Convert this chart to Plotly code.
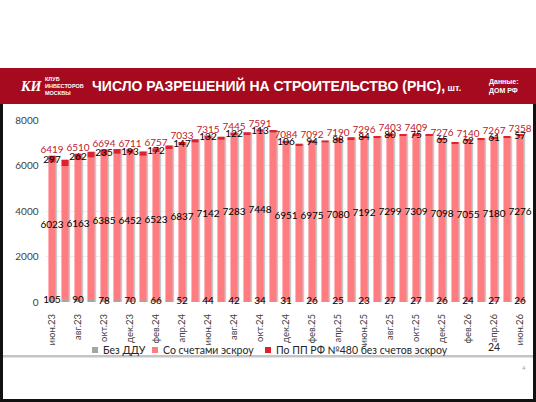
import plotly.graph_objects as go

W, H = 536, 402

# monthly categories, every second one is labelled on the axis
months = [
    "июн.23", "июл.23", "авг.23", "сен.23", "окт.23", "ноя.23", "дек.23",
    "янв.24", "фев.24", "мар.24", "апр.24", "май.24", "июн.24", "июл.24",
    "авг.24", "сен.24", "окт.24", "ноя.24", "дек.24", "янв.25", "фев.25",
    "мар.25", "апр.25", "май.25", "июн.25", "июл.25", "авг.25", "сен.25",
    "окт.25", "ноя.25", "дек.25", "янв.26", "фев.26", "мар.26", "апр.26",
    "май.26", "июн.26",
]

bez_ddu = [105, 98, 90, 84, 78, 74, 70, 68, 66, 58, 52, 47, 44, 43, 42, 37,
           34, 32, 31, 28, 26, 25, 25, 24, 23, 25, 27, 27, 27, 26, 26, 25,
           24, 26, 27, 26, 26]

escrow = [6023, 5877, 6163, 6268, 6385, 6446, 6452, 6362, 6523, 6662, 6837,
          6963, 7142, 7090, 7283, 7305, 7448, 7418, 6951, 6832, 6975, 6985,
          7080, 7130, 7192, 7193, 7299, 7285, 7309, 7294, 7098, 6932, 7055,
          7113, 7180, 7195, 7276]

pp480 = [297, 275, 262, 248, 235, 210, 193, 180, 172, 160, 147, 140, 132,
         127, 122, 118, 113, 110, 106, 100, 94, 90, 88, 86, 84, 82, 80, 78,
         75, 70, 65, 63, 62, 61, 61, 59, 57]

# totals printed above the labelled months
totals = [6419, 6510, 6694, 6711, 6757, 7033, 7315, 7445, 7591, 7084, 7092,
          7190, 7296, 7403, 7409, 7276, 7140, 7267, 7358]

y_ticks = [0, 2000, 4000, 6000, 8000]

GREY = "#A5A5A5"
PINK = "#FF7C80"
DARK = "#E0202A"
BAND = "#A50A1E"
FONT = "Lato"


def px(x):
    return x / W


def py(y):
    return 1 - y / H


top_escrow = [b + e for b, e in zip(bez_ddu, escrow)]
stack_top = [t + p for t, p in zip(top_escrow, pp480)]

lab = list(range(0, len(months), 2))
lab_x = [months[i] for i in lab]

fig = go.Figure()

# soft shadow to the right of every column
fig.add_trace(go.Bar(
    x=months, y=stack_top, base=0, width=0.55, offset=-0.15,
    marker=dict(color="#C9C9C9", line_width=0), showlegend=False,
    hoverinfo="skip",
))
fig.add_trace(go.Bar(
    x=months, y=bez_ddu, base=0, width=0.55, name="Без ДДУ",
    marker=dict(color=GREY, line_width=0), showlegend=False,
))
fig.add_trace(go.Bar(
    x=months, y=escrow, base=bez_ddu, width=0.55, name="Со счетами эскроу",
    marker=dict(color=PINK, line_width=0), showlegend=False,
))
fig.add_trace(go.Bar(
    x=months, y=pp480, base=top_escrow, width=0.55,
    name="По ПП РФ №480 без счетов эскроу",
    marker=dict(color=DARK, line_width=0), showlegend=False,
))

label_font = dict(family=FONT, size=10, color="#000000")
fig.add_trace(go.Scatter(
    x=lab_x, y=[bez_ddu[i] / 2 for i in lab], text=[bez_ddu[i] for i in lab],
    mode="text", textfont=label_font, cliponaxis=False, showlegend=False,
))
fig.add_trace(go.Scatter(
    x=lab_x, y=[bez_ddu[i] + escrow[i] / 2 + 250 for i in lab],
    text=[escrow[i] for i in lab],
    mode="text", textfont=label_font, cliponaxis=False, showlegend=False,
))
fig.add_trace(go.Scatter(
    x=lab_x, y=[top_escrow[i] + pp480[i] / 2 - 40 for i in lab],
    text=[pp480[i] for i in lab],
    mode="text", textfont=label_font, cliponaxis=False, showlegend=False,
))
fig.add_trace(go.Scatter(
    x=lab_x, y=[stack_top[i] for i in lab], text=totals,
    mode="text", textposition="top center",
    textfont=dict(family=FONT, size=10, color="#C0202A"),
    cliponaxis=False, showlegend=False,
))

fig.update_layout(
    width=W, height=H,
    margin=dict(l=0, r=0, t=0, b=0),
    paper_bgcolor="white", plot_bgcolor="white",
    barmode="overlay",
    font=dict(family=FONT, color="#404040"),
    showlegend=False,
)

fig.update_xaxes(
    type="category", categoryorder="array", categoryarray=months,
    range=[-0.5, len(months) - 0.5],
    domain=[px(45.5), px(526.5)],
    tickmode="array", tickvals=lab_x, ticktext=lab_x,
    tickangle=-90, tickfont=dict(family=FONT, size=9.5, color="#404040"),
    ticklabelstandoff=9, showgrid=False, showline=False, ticks="",
    zeroline=False, automargin=False,
)
fig.update_yaxes(
    range=[0, 8000], domain=[py(302), py(120)],
    tickmode="array", tickvals=y_ticks,
    tickfont=dict(family=FONT, size=10, color="#404040"),
    gridcolor="#EDEDED", gridwidth=1, showline=False, zeroline=False,
    ticks="", ticklabelstandoff=6, automargin=False,
)

shapes = [
    # header band
    dict(type="rect", xref="paper", yref="paper", x0=0, x1=1,
         y0=py(104), y1=py(68), fillcolor=BAND, line_width=0, layer="below"),
    # grey rule under the chart
    dict(type="rect", xref="paper", yref="paper", x0=px(3), x1=px(533),
         y0=py(357.5), y1=py(355), fillcolor="#C4C4C4", line_width=0),
    # dark frame of the screenshot
    dict(type="rect", xref="paper", yref="paper", x0=0, x1=px(3),
         y0=0, y1=py(104), fillcolor="#111111", line_width=0),
    dict(type="rect", xref="paper", yref="paper", x0=px(533), x1=1,
         y0=0, y1=py(104), fillcolor="#111111", line_width=0),
    dict(type="rect", xref="paper", yref="paper", x0=0, x1=1,
         y0=0, y1=py(399), fillcolor="#111111", line_width=0),
]

# custom legend swatches
legend_items = [
    (95, GREY, "Без ДДУ"),
    (155, PINK, "Со счетами эскроу"),
    (268, DARK, "По ПП РФ №480 без счетов эскроу"),
]
annotations = []
for x0, color, name in legend_items:
    shapes.append(dict(type="rect", xref="paper", yref="paper",
                       x0=px(x0 - 3), x1=px(x0 + 3), y0=py(353), y1=py(347),
                       fillcolor=color, line_width=0))
    annotations.append(dict(
        xref="paper", yref="paper", x=px(x0 + 6), y=py(350),
        xanchor="left", yanchor="middle", text=name, showarrow=False,
        font=dict(family=FONT, size=10.5, color="#262626"),
    ))

annotations += [
    dict(xref="paper", yref="paper", x=px(502), y=py(347), text="24",
         yanchor="middle", showarrow=False,
         font=dict(family=FONT, size=10.5, color="#262626")),
    dict(xref="paper", yref="paper", x=px(528), y=py(367), text="4",
         yanchor="middle", showarrow=False,
         font=dict(family=FONT, size=6, color="#A0A0A0")),
    # header texts
    dict(xref="paper", yref="paper", x=px(18), y=py(87), yanchor="middle",
         text="<b><i>КИ</i></b>", showarrow=False,
         font=dict(family="Liberation Serif", size=14, color="white")),
    dict(xref="paper", yref="paper", x=px(43), y=py(85.5), xanchor="left",
         yanchor="middle",
         text="<b>КЛУБ<br>ИНВЕСТОРОВ<br>МОСКВЫ</b>", showarrow=False,
         align="left",
         font=dict(family="Liberation Sans Narrow, Liberation Sans",
                   size=5.5, color="white")),
    dict(xref="paper", yref="paper", x=px(90), y=py(85.5), xanchor="left",
         yanchor="middle",
         text="<b>ЧИСЛО РАЗРЕШЕНИЙ НА СТРОИТЕЛЬСТВО (РНС),</b>"
              "<span style='font-size:9px'><b> шт.</b></span>",
         showarrow=False,
         font=dict(family="Liberation Sans", size=14, color="white")),
    dict(xref="paper", yref="paper", x=px(487), y=py(86), xanchor="left",
         yanchor="middle",
         text="<b>Данные:<br>ДОМ РФ</b>", showarrow=False, align="left",
         font=dict(family="Liberation Sans", size=7, color="white")),
]

fig.update_layout(shapes=shapes, annotations=annotations)

# the page's default 8px body margin would shift the whole slide
fig.write_html("out.html", config={"displayModeBar": False},
               post_script="document.body.style.margin='0';")
